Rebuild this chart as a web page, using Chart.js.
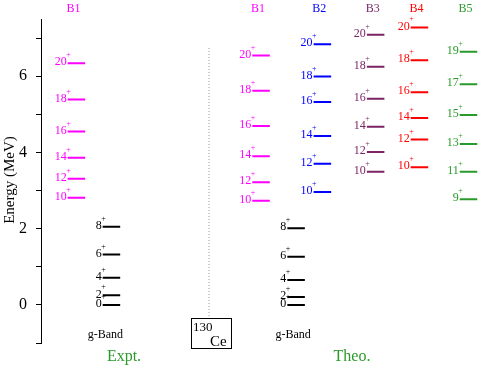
<!DOCTYPE html>
<html>
<head>
<meta charset="utf-8">
<script src="https://cdn.jsdelivr.net/npm/chart.js@4/dist/chart.umd.min.js"></script>
<style>
  html, body { margin: 0; padding: 0; background: #fff; }
  #wrap { width: 479px; height: 370px; }
</style>
</head>
<body>
<div id="wrap"><canvas id="levels"></canvas></div>
<script>
// Level energies (MeV)
const exptB1Spins = [10, 12, 14, 16, 18, 20];
const exptB1Energy = [2.81, 3.31, 3.86, 4.55, 5.39, 6.34];
const exptGSpins = [0, 2, 4, 6, 8];
const exptGEnergy = [0, 0.25, 0.71, 1.32, 2.05];

const theoB1Spins = [10, 12, 14, 16, 18, 20];
const theoB1Energy = [2.73, 3.22, 3.90, 4.69, 5.62, 6.54];
const theoGSpins = [0, 2, 4, 6, 8];
const theoGEnergy = [0, 0.21, 0.65, 1.26, 2.01];
const theoB2Spins = [10, 12, 14, 16, 18, 20];
const theoB2Energy = [2.96, 3.70, 4.43, 5.32, 5.99, 6.84];
const theoB3Spins = [10, 12, 14, 16, 18, 20];
const theoB3Energy = [3.49, 4.01, 4.67, 5.41, 6.25, 7.09];
const theoB4Spins = [10, 12, 14, 16, 18, 20];
const theoB4Energy = [3.61, 4.34, 4.90, 5.58, 6.42, 7.28];
const theoB5Spins = [9, 11, 13, 15, 17, 19];
const theoB5Energy = [2.77, 3.49, 4.22, 4.98, 5.79, 6.64];

const yTicks = [-1, 0, 1, 2, 3, 4, 5, 6, 7];

// Layout: column position of each band on the x axis (0..12.5)
const bands = [
    { name: 'B1', spins: exptB1Spins, energy: exptB1Energy, col: 1.01, color: '#ff00ff', header: true },
    { name: 'g', spins: exptGSpins, energy: exptGEnergy, col: 2.01, color: '#000000', header: false },
    { name: 'B1', spins: theoB1Spins, energy: theoB1Energy, col: 6.28, color: '#ff00ff', header: true },
    { name: 'g', spins: theoGSpins, energy: theoGEnergy, col: 7.28, color: '#000000', header: false },
    { name: 'B2', spins: theoB2Spins, energy: theoB2Energy, col: 8.03, color: '#0000ff', header: true },
    { name: 'B3', spins: theoB3Spins, energy: theoB3Energy, col: 9.55, color: '#7b2466', header: true },
    { name: 'B4', spins: theoB4Spins, energy: theoB4Energy, col: 10.8, color: '#ff0000', header: true },
    { name: 'B5', spins: theoB5Spins, energy: theoB5Energy, col: 12.2, color: '#2a9a2a', header: true }
];
const halfWidth = 0.25;
const sepCol = 4.795;

// Build one line dataset per band, each level a separate segment
const datasets = bands.map(b => {
    const pts = [];
    b.energy.forEach(e => {
        pts.push({ x: b.col - halfWidth, y: e });
        pts.push({ x: b.col + halfWidth, y: e });
        pts.push({ x: b.col, y: null });
    });
    return {
        data: pts,
        borderColor: b.color,
        borderWidth: 2,
        pointRadius: 0,
        spanGaps: false,
        fill: false
    };
});
datasets.push({
    data: [{ x: sepCol, y: 6.74 }, { x: sepCol, y: -0.32 }],
    borderColor: '#999999',
    borderWidth: 1,
    borderDash: [1, 2],
    pointRadius: 0,
    fill: false
});

const serif = '"Liberation Serif", "DejaVu Serif", serif';

// Draw spin labels, band headers and captions
const labelPlugin = {
    id: 'labels',
    afterDatasetsDraw(chart) {
        const ctx = chart.ctx;
        const xs = chart.scales.x, ys = chart.scales.y;
        ctx.save();
        bands.forEach(b => {
            const x0 = xs.getPixelForValue(b.col - halfWidth);
            ctx.fillStyle = b.color;
            b.energy.forEach((e, i) => {
                const y = ys.getPixelForValue(e);
                ctx.font = '12px ' + serif;
                ctx.textAlign = 'right';
                ctx.textBaseline = 'middle';
                ctx.fillText(String(b.spins[i]), x0 - 1, y - 1);
                ctx.font = '8px ' + serif;
                ctx.textAlign = 'left';
                ctx.fillText('+', x0 - 1.5, y - 8);
            });
            if (b.header) {
                ctx.font = '12px ' + serif;
                ctx.textAlign = 'center';
                ctx.textBaseline = 'middle';
                ctx.fillText(b.name, xs.getPixelForValue(b.col) - 3, 9);
            }
        });
        ctx.fillStyle = '#000';
        ctx.font = '12px ' + serif;
        ctx.textAlign = 'center';
        ctx.textBaseline = 'middle';
        ctx.fillText('g-Band', xs.getPixelForValue(bands[1].col) - 6, 335);
        ctx.fillText('g-Band', xs.getPixelForValue(bands[3].col) - 3, 335);

        ctx.fillStyle = '#2a9a2a';
        ctx.font = '16px ' + serif;
        ctx.fillText('Expt.', 124, 357);
        ctx.fillText('Theo.', 352, 357);

        // isotope box
        ctx.strokeStyle = '#000';
        ctx.lineWidth = 1;
        ctx.strokeRect(191.5, 318.5, 40, 30);
        ctx.fillStyle = '#000';
        ctx.textAlign = 'left';
        ctx.textBaseline = 'alphabetic';
        ctx.font = '13px ' + serif;
        ctx.fillText('130', 193, 331);
        ctx.font = '15px ' + serif;
        ctx.fillText('Ce', 210, 346);

        // y axis title
        ctx.translate(10, 180);
        ctx.rotate(-Math.PI / 2);
        ctx.font = '15px ' + serif;
        ctx.textAlign = 'center';
        ctx.textBaseline = 'middle';
        ctx.fillText('Energy (MeV)', 0, 0);
        ctx.restore();
    }
};

new Chart(document.getElementById('levels'), {
    type: 'line',
    data: { datasets: datasets },
    options: {
        responsive: true,
        maintainAspectRatio: false,
        animation: false,
        events: [],
        layout: { padding: { top: 19, bottom: 27, left: 0, right: 0 } },
        plugins: { legend: { display: false }, tooltip: { enabled: false } },
        scales: {
            x: { type: 'linear', min: 0, max: 12.5, display: false },
            y: {
                min: -1,
                max: 7.5,
                afterBuildTicks(scale) {
                    scale.ticks = yTicks.map(v => ({ value: v }));
                },
                afterFit(scale) { scale.width = 41; },
                ticks: {
                    color: '#000',
                    padding: 9,
                    font: { family: serif, size: 16 },
                    callback: v => (v >= 0 && v % 2 === 0) ? String(v) : ''
                },
                grid: { drawOnChartArea: false, tickLength: 5, color: '#000' },
                border: { color: '#000', width: 1 }
            }
        }
    },
    plugins: [labelPlugin]
});
</script>
</body>
</html>
